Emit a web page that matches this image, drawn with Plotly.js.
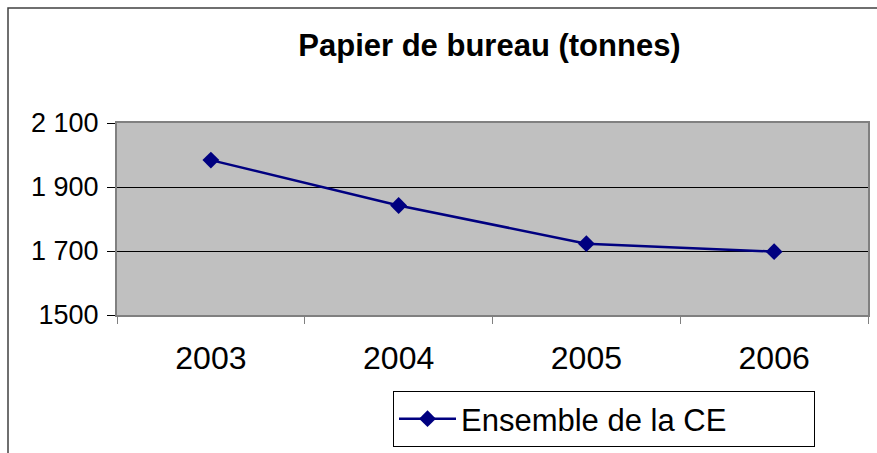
<!DOCTYPE html>
<html>
<head>
<meta charset="utf-8">
<script src="https://cdn.plot.ly/plotly-3.0.1.min.js"></script>
<style>html,body{margin:0;padding:0;background:#fff;}#chart{width:877px;height:453px;}</style>
</head>
<body>
<div id="chart"></div>
<script>
// Data
var years = ["2003", "2004", "2005", "2006"];
var paperTonnes = [1984, 1842, 1723, 1698];
var seriesName = "Ensemble de la CE";
var yTickVals = [1500, 1700, 1900, 2100];
var yTickText = ["1500", "1 700", "1 900", "2 100"];

var W = 877, H = 453;
var mL = 117, mR = 9, mT = 123, mB = 138;
var pw = W - mL - mR, ph = H - mT - mB;
function px2x(px) { return (px - mL) / pw; }
function py2y(py) { return (H - mB - py) / ph; }

var font = "Liberation Sans, Arial, sans-serif";

var trace = {
  x: years,
  y: paperTonnes,
  name: seriesName,
  type: "scatter",
  mode: "lines+markers",
  line: { color: "#000080", width: 2.5 },
  marker: { symbol: "diamond", size: 13, color: "#000080" },
  showlegend: true
};

var layout = {
  width: W, height: H,
  margin: { l: mL, r: mR, t: mT, b: mB, pad: 0, autoexpand: false },
  paper_bgcolor: "#ffffff",
  plot_bgcolor: "#c0c0c0",
  font: { family: font, color: "#000" },
  title: {
    text: "<b>Papier de bureau (tonnes)</b>",
    font: { family: font, size: 31, color: "#000" },
    x: 489.5 / W, xref: "container", xanchor: "center",
    y: 1 - 45 / H, yref: "container", yanchor: "middle"
  },
  xaxis: {
    type: "category",
    range: [-0.5, 3.5],
    tickson: "boundaries",
    ticks: "outside", ticklen: 7, tickcolor: "#808080", tickwidth: 1,
    showline: true, linecolor: "#808080", linewidth: 2, mirror: true,
    showgrid: false, zeroline: false, automargin: false,
    tickfont: { family: font, size: 32, color: "#000" },
    ticklabelstandoff: 14,
    fixedrange: true
  },
  yaxis: {
    range: [1500, 2100],
    tickvals: yTickVals, ticktext: yTickText,
    ticks: "outside", ticklen: 8, tickcolor: "#000", tickwidth: 1,
    showline: true, linecolor: "#808080", linewidth: 2, mirror: true,
    showgrid: true, gridcolor: "#000", gridwidth: 1,
    zeroline: false, automargin: false,
    tickfont: { family: font, size: 27, color: "#000" },
    ticklabelstandoff: 3,
    fixedrange: true
  },
  legend: {
    orientation: "h",
    x: px2x(393), y: py2y(447), xanchor: "left", yanchor: "bottom",
    bgcolor: "#ffffff", bordercolor: "#000", borderwidth: 1,
    font: { family: font, size: 31, color: "#000" },
    itemwidth: 57,
    entrywidth: 348, entrywidthmode: "pixels"
  },
  shapes: [
    { type: "rect", xref: "paper", yref: "paper",
      x0: px2x(8), x1: px2x(880), y0: py2y(460), y1: py2y(8),
      line: { color: "#404040", width: 1.5 }, fillcolor: "rgba(0,0,0,0)", layer: "below" }
  ]
};

Plotly.newPlot("chart", [trace], layout, { displayModeBar: false, staticPlot: true });
</script>
</body>
</html>
